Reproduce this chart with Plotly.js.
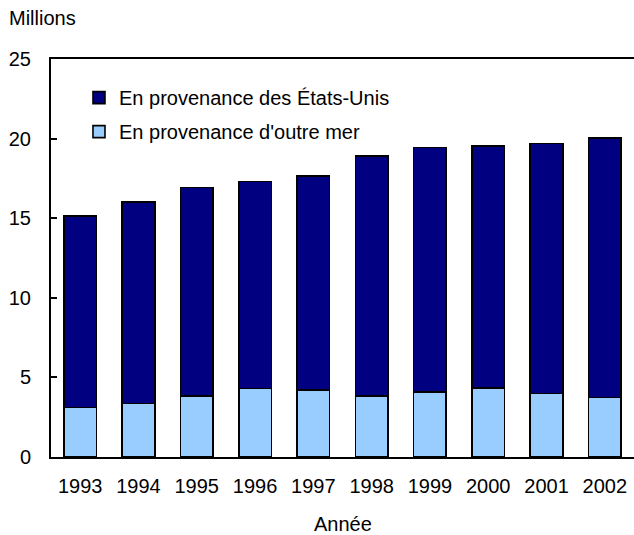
<!DOCTYPE html>
<html>
<head>
<meta charset="utf-8">
<script src="https://cdn.plot.ly/plotly-3.0.1.min.js"></script>
<style>html,body{margin:0;padding:0;background:#fff;}#chart{width:634px;height:535px;}</style>
</head>
<body>
<div id="chart"></div>
<script>
const years = ["1993","1994","1995","1996","1997","1998","1999","2000","2001","2002"];
const overseas = [3.12, 3.35, 3.83, 4.31, 4.21, 3.83, 4.08, 4.33, 3.98, 3.73];
const fromUS = [12.03, 12.67, 13.11, 12.99, 13.44, 15.09, 15.35, 15.22, 15.70, 16.29];
const seriesNames = ["En provenance d'outre mer", "En provenance des États-Unis"];
const yTicks = [0, 5, 10, 15, 20, 25];

const FONT = "'Liberation Sans', Arial, sans-serif";
const traces = [
  {type: 'bar', name: seriesNames[0], legendgroup: 'overseas', legendrank: 2, x: years, y: overseas,
   marker: {color: '#99CCFF', line: {color: '#000000', width: 1.6}}},
  {type: 'bar', name: seriesNames[1], legendgroup: 'us', legendrank: 1, x: years, y: fromUS,
   marker: {color: '#000080', line: {color: '#000000', width: 1.6}}}
];
const layout = {
  width: 634, height: 535,
  margin: {l: 51, r: 0, t: 59, b: 78},
  paper_bgcolor: '#ffffff', plot_bgcolor: '#ffffff',
  font: {family: FONT, size: 20, color: '#000000'},
  barmode: 'stack', bargap: 0.44,
  showlegend: true,
  legend: {x: 0.048, y: 0.952, xanchor: 'left', yanchor: 'top', traceorder: 'grouped',
           tracegroupgap: 5,
           bgcolor: 'rgba(0,0,0,0)', font: {family: FONT, size: 20, color: '#000'}},
  xaxis: {type: 'category', showline: true, linecolor: '#000', linewidth: 2, mirror: true,
          ticks: '', showgrid: false, zeroline: false, ticklabelstandoff: 10,
          tickfont: {family: FONT, size: 20, color: '#000'}},
  yaxis: {range: [0, 25], tickvals: yTicks, ticktext: yTicks.map(String),
          showline: true, linecolor: '#000', linewidth: 2, mirror: false,
          ticks: 'inside', ticklen: 6, tickwidth: 2, tickcolor: '#000',
          showgrid: false, zeroline: false, ticklabelstandoff: 14,
          tickfont: {family: FONT, size: 20, color: '#000'}},
  annotations: [
    {text: 'Millions', xref: 'paper', yref: 'paper', x: -0.0755, y: 1.103,
     xanchor: 'left', yanchor: 'middle', showarrow: false, font: {family: FONT, size: 20, color: '#000'}},
    {text: 'Année', xref: 'paper', yref: 'paper', x: 0.5, y: -0.168,
     xanchor: 'center', yanchor: 'middle', showarrow: false, font: {family: FONT, size: 20, color: '#000'}}
  ]
};
Plotly.newPlot('chart', traces, layout, {staticPlot: true});
</script>
</body>
</html>
